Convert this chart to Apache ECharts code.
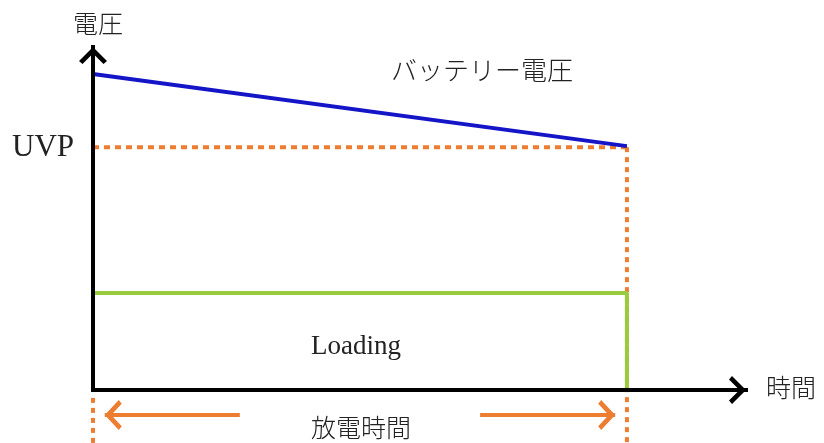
<!DOCTYPE html>
<html>
<head>
<meta charset="utf-8">
<script src="https://cdn.jsdelivr.net/npm/echarts@6/dist/echarts.min.js"></script>
<style>
  html, body { margin: 0; padding: 0; background: #fff; }
  #chart { width: 824px; height: 443px; }
</style>
</head>
<body>
<div id="chart"></div>
<script>
// discharge window on the time axis (start, end)
var dischargeTime = [0, 100];
// battery voltage at start and end of discharge
var batteryVoltage = [92.1, 71.1];
// under-voltage protection level
var uvpLevel = 70.8;
// load level
var loadingLevel = 28.3;
// dashed guide below the time axis
var guideBottom = -15.5;
var guideStartTop = -2.3;
// discharge-time arrows: [tail, tip]
var arrowLevel = -7.3;
var leftArrowX = [27.5, 2.2];
var rightArrowX = [72.5, 97.8];

var ORANGE = "#ed7d31";
var BLUE = "#1515c8";
var GREEN = "#9acb3c";
var CJK = "'Noto Sans CJK JP', 'Noto Sans CJK SC', sans-serif";
var SERIF = "'Liberation Serif', 'DejaVu Serif', serif";
var chevron = "path://M0,14 L14,0 L28,14 L24.5,17 L14,6.5 L3.5,17 Z";

var myChart = echarts.init(document.getElementById("chart"));

function arrowSeries(xs, rotate, offset) {
  return {
    type: "line",
    z: 4,
    clip: false,
    silent: true,
    symbol: chevron,
    symbolSize: [30, 17],
    symbolRotate: rotate,
    symbolOffset: offset,
    lineStyle: { color: ORANGE, width: 4 },
    itemStyle: { color: ORANGE, borderWidth: 0 },
    data: [
      { value: [xs[0], arrowLevel], symbol: "none" },
      { value: [xs[1], arrowLevel] },
    ],
  };
}

myChart.setOption({
  animation: false,
  grid: { left: 93, right: 78, top: 47, bottom: 53 },
  xAxis: {
    type: "value",
    min: 0,
    max: 122.3,
    z: 5,
    axisLine: {
      show: true,
      symbol: ["none", chevron],
      symbolSize: [30, 17],
      symbolOffset: [0, -8.5],
      lineStyle: { color: "#000", width: 4, cap: "square" },
    },
    axisTick: { show: false },
    axisLabel: { show: false },
    splitLine: { show: false },
  },
  yAxis: {
    type: "value",
    min: 0,
    max: 100,
    z: 5,
    axisLine: {
      show: true,
      symbol: ["none", chevron],
      symbolSize: [28, 17],
      symbolOffset: [0, -8.5],
      lineStyle: { color: "#000", width: 4, cap: "square" },
    },
    axisTick: { show: false },
    axisLabel: { show: false },
    splitLine: { show: false },
  },
  series: [
    {
      name: "UVP",
      type: "line",
      symbol: "none",
      z: 2,
      lineStyle: { color: ORANGE, width: 4, type: [6, 5] },
      data: [
        [dischargeTime[0], uvpLevel],
        [dischargeTime[1], uvpLevel],
      ],
    },
    {
      type: "line",
      symbol: "none",
      z: 2,
      clip: false,
      lineStyle: { color: ORANGE, width: 4, type: [5, 5] },
      data: [
        [dischargeTime[1], uvpLevel],
        [dischargeTime[1], guideBottom],
      ],
    },
    {
      type: "line",
      symbol: "none",
      z: 2,
      clip: false,
      lineStyle: { color: ORANGE, width: 4, type: [5, 5] },
      data: [
        [dischargeTime[0], guideStartTop],
        [dischargeTime[0], guideBottom],
      ],
    },
    {
      name: "Loading",
      type: "line",
      symbol: "none",
      z: 3,
      lineStyle: { color: GREEN, width: 4 },
      data: [
        [dischargeTime[0], loadingLevel],
        [dischargeTime[1], loadingLevel],
        [dischargeTime[1], 0],
      ],
    },
    {
      name: "バッテリー電圧",
      type: "line",
      symbol: "none",
      z: 3,
      lineStyle: { color: BLUE, width: 4 },
      data: [
        [dischargeTime[0], batteryVoltage[0]],
        [dischargeTime[1], batteryVoltage[1]],
      ],
    },
    arrowSeries(leftArrowX, 90, [8.5, 0]),
    arrowSeries(rightArrowX, -90, [-8.5, 0]),
  ],
  graphic: [
    { type: "text", left: 73, top: 11, style: { text: "電圧", font: "300 25px " + CJK, fill: "#222" } },
    { type: "text", left: 766, top: 375, style: { text: "時間", font: "300 25px " + CJK, fill: "#222" } },
    { type: "text", left: 391, top: 57, style: { text: "バッテリー電圧", font: "300 26px " + CJK, fill: "#222" } },
    { type: "text", left: 311, top: 415, style: { text: "放電時間", font: "300 25px " + CJK, fill: "#222" } },
    { type: "text", left: 12, top: 132, style: { text: "UVP", font: "31px " + SERIF, fill: "#222" } },
    { type: "text", left: 311, top: 333, style: { text: "Loading", font: "27px " + SERIF, fill: "#222" } },
  ],
});
</script>
</body>
</html>
